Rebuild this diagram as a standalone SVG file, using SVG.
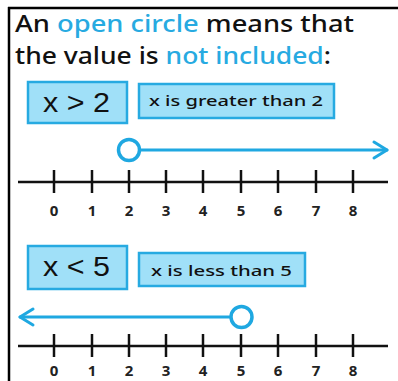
<svg xmlns="http://www.w3.org/2000/svg" width="398" height="381" viewBox="0 0 398 381">
<defs>
<style>
.frame{stroke:#000;stroke-width:2.5;fill:none}
.h{font-family:"Comic Sans MS","Noto Sans","DejaVu Sans",sans-serif;font-size:23px;font-weight:500;fill:#111}
.hb{fill:#27aae1}
.box{fill:#a0e0f8;stroke:#27aae1;stroke-width:2.5}
.math{font-family:"Liberation Sans",Arial,sans-serif;font-size:27px;fill:#111}
.desc{font-family:"Comic Sans MS","Noto Sans","DejaVu Sans",sans-serif;font-size:15px;font-weight:500;fill:#111}
.axis{stroke:#111;stroke-width:2.5;fill:none}
.tick{stroke:#111;stroke-width:2.5}
.num{font-family:"Comic Sans MS","Noto Sans","DejaVu Sans",sans-serif;font-size:15px;font-weight:bold;fill:#222;text-anchor:middle}
.ray{stroke:#1fa8e1;stroke-width:3;fill:none;stroke-linecap:round;stroke-linejoin:round}
.open{fill:#fff;stroke:#1fa8e1;stroke-width:3.5}
</style>
<g id="ticks">
<line class="axis" x1="18" y1="0" x2="388" y2="0"/>
<line class="tick" x1="54" y1="-12" x2="54" y2="11"/>
<line class="tick" x1="92" y1="-12" x2="92" y2="11"/>
<line class="tick" x1="129" y1="-12" x2="129" y2="11"/>
<line class="tick" x1="166" y1="-12" x2="166" y2="11"/>
<line class="tick" x1="203" y1="-12" x2="203" y2="11"/>
<line class="tick" x1="241" y1="-12" x2="241" y2="11"/>
<line class="tick" x1="278" y1="-12" x2="278" y2="11"/>
<line class="tick" x1="316" y1="-12" x2="316" y2="11"/>
<line class="tick" x1="353" y1="-12" x2="353" y2="11"/>
</g>
</defs>
<g id="frame">
<line class="frame" x1="8" y1="8" x2="398" y2="8"/>
<line class="frame" x1="9" y1="7" x2="9" y2="381"/>
</g>
<g id="heading">
<text class="h" x="15" y="32" textLength="339" lengthAdjust="spacingAndGlyphs">An <tspan class="hb">open circle</tspan> means that</text>
<text class="h" x="15" y="64" textLength="316" lengthAdjust="spacingAndGlyphs">the value is <tspan class="hb">not included</tspan>:</text>
</g>
<g id="box-gt">
<rect class="box" x="28" y="82" width="99" height="41"/>
<text class="math" x="43" y="112" textLength="67" lengthAdjust="spacingAndGlyphs">x &gt; 2</text>
</g>
<g id="desc-gt">
<rect class="box" x="139" y="84" width="195" height="34"/>
<text class="desc" x="149" y="106" textLength="174" lengthAdjust="spacingAndGlyphs">x is greater than 2</text>
</g>
<g id="numberline-1">
<use href="#ticks" transform="translate(0,182)"/>
<text class="num" x="54" y="216">0</text>
<text class="num" x="92" y="216">1</text>
<text class="num" x="129" y="216">2</text>
<text class="num" x="166" y="216">3</text>
<text class="num" x="203" y="216">4</text>
<text class="num" x="241" y="216">5</text>
<text class="num" x="278" y="216">6</text>
<text class="num" x="316" y="216">7</text>
<text class="num" x="353" y="216">8</text>
</g>
<g id="box-lt">
<rect class="box" x="28" y="246" width="99" height="43"/>
<text class="math" x="43" y="276" textLength="67" lengthAdjust="spacingAndGlyphs">x &lt; 5</text>
</g>
<g id="desc-lt">
<rect class="box" x="139" y="253" width="166" height="33"/>
<text class="desc" x="151" y="276" textLength="141" lengthAdjust="spacingAndGlyphs">x is less than 5</text>
</g>
<g id="numberline-2">
<use href="#ticks" transform="translate(0,346)"/>
<text class="num" x="54" y="376">0</text>
<text class="num" x="92" y="376">1</text>
<text class="num" x="129" y="376">2</text>
<text class="num" x="166" y="376">3</text>
<text class="num" x="203" y="376">4</text>
<text class="num" x="241" y="376">5</text>
<text class="num" x="278" y="376">6</text>
<text class="num" x="316" y="376">7</text>
<text class="num" x="353" y="376">8</text>
</g>
<g id="connectors">
<line class="ray" x1="140" y1="150" x2="387" y2="150"/>
<polyline class="ray" points="374,142 387,150 374,158"/>
<line class="ray" x1="230" y1="317" x2="20" y2="317"/>
<polyline class="ray" points="33,309 20,317 33,325"/>
</g>
<g id="open-circle-2">
<circle class="open" cx="129" cy="150" r="10.5"/>
</g>
<g id="open-circle-5">
<circle class="open" cx="241.5" cy="317" r="10.5"/>
</g>
</svg>
